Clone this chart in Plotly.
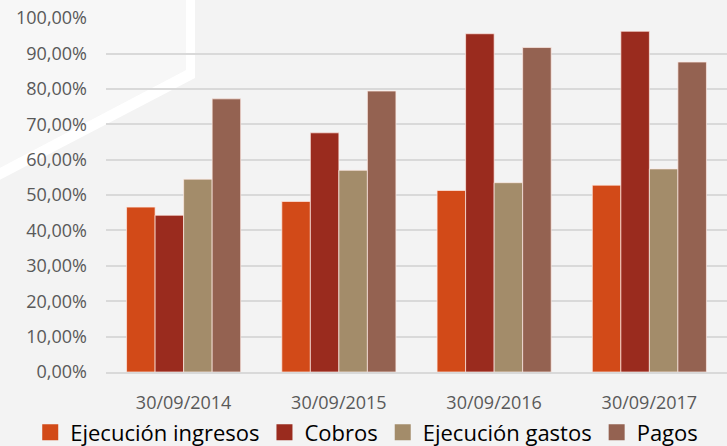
import plotly.graph_objects as go

# datos (fracciones)
fechas = ["30/09/2014", "30/09/2015", "30/09/2016", "30/09/2017"]
ejecucion_ingresos = [0.466, 0.482, 0.513, 0.528]
cobros = [0.443, 0.676, 0.956, 0.963]
ejecucion_gastos = [0.545, 0.570, 0.535, 0.574]
pagos = [0.772, 0.794, 0.917, 0.876]

series = [
    ("Ejecución ingresos", ejecucion_ingresos, "#D24A18"),
    ("Cobros", cobros, "#9A2B1E"),
    ("Ejecución gastos", ejecucion_gastos, "#A38C6A"),
    ("Pagos", pagos, "#946251"),
]

fig = go.Figure()
for nombre, valores, color in series:
    fig.add_bar(x=fechas, y=valores, name=nombre, showlegend=False,
                marker=dict(color=color, line=dict(color="rgba(255,235,230,0.7)", width=1)))
    # entrada de leyenda con cuadrado mas grande
    fig.add_scatter(x=[None], y=[None], mode="markers", name=nombre,
                    marker=dict(symbol="square", size=18, color=color))

# fondo: chevron blanco a la izquierda
L, W, B, H = 106, 621, 372.5, 354.5
def px(x, y):
    return (x - L) / W, (B - y) / H

def path(pts):
    s = ""
    for i, (x, y) in enumerate(pts):
        a, b = px(x, y)
        s += ("M" if i == 0 else "L") + f"{a:.4f},{b:.4f} "
    return s + "Z"

fig.add_shape(type="path", xref="paper", yref="paper", layer="below",
              path=path([(0, 0), (186, 0), (186, 70), (0, 168)]),
              fillcolor="#F7F7F7", line=dict(width=0))
fig.add_shape(type="path", xref="paper", yref="paper", layer="below",
              path=path([(186, 0), (195, 0), (195, 78), (0, 180), (0, 168), (186, 70)]),
              fillcolor="#FFFFFF", line=dict(width=0))

fig.update_layout(
    width=727, height=446,
    margin=dict(l=106, r=0, t=18, b=73.5, autoexpand=False),
    paper_bgcolor="#F3F3F3", plot_bgcolor="rgba(0,0,0,0)",
    barmode="group", bargap=0.265, bargroupgap=0,
    separators=",.",
    font=dict(family="Open Sans", size=18, color="#595959"),
    legend=dict(orientation="h", x=-0.122, xanchor="left",
                y=-0.171, yanchor="middle",
                font=dict(size=22, color="#000000"), itemsizing="trace",
                bgcolor="rgba(0,0,0,0)"),
)
fig.update_yaxes(range=[0, 1.0005], dtick=0.1, tickformat=".2%",
                 gridcolor="#D9D9D9", gridwidth=1.5, zeroline=False,
                 showline=False, ticklabelstandoff=18, automargin=False)
fig.update_xaxes(showline=True, linecolor="#D9D9D9", linewidth=1.5,
                 ticks="outside", ticklen=14, tickcolor="rgba(0,0,0,0)",
                 showgrid=False, automargin=False)

fig.write_html("out.html", config={"displayModeBar": False},
               post_script="document.body.style.margin='0';")
